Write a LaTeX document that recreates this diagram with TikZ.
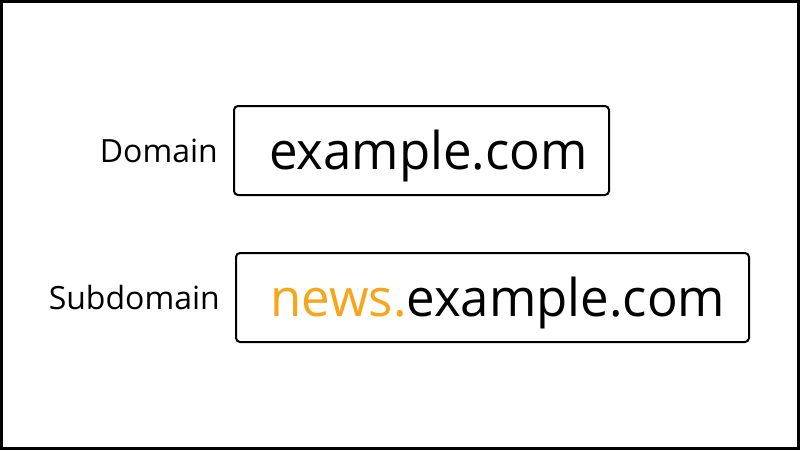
\documentclass[tikz,border=0pt]{standalone}
\usepackage{fontspec}
\setmainfont{Open Sans}
\definecolor{subor}{RGB}{247,166,28}
\begin{document}
\begin{tikzpicture}[x=1pt,y=-1pt,
  urlbox/.style={draw=black,line width=2pt,rounded corners=4pt},
  lbl/.style={inner sep=0pt,anchor=base east,font=\fontsize{32}{38}\selectfont},
  url/.style={inner sep=0pt,anchor=base west,font=\fontsize{52}{60}\selectfont}]
\useasboundingbox (0,0) rectangle (800,450);
\draw[line width=3pt] (1.5,1.5) rectangle (798.5,448.5);
\draw[urlbox] (234,106) rectangle (609,195);
\draw[urlbox] (236,253) rectangle (749,342);
\node[lbl] (dl) at (218,162) {Domain};
\node[lbl] (sl) at (220,309) {Subdomain};
\node[url,xscale=0.98] (du) at (269,169) {example.com};
\node[url,xscale=0.98] (su) at (270,316) {\textcolor{subor}{news.}example.com};
\end{tikzpicture}
\end{document}
